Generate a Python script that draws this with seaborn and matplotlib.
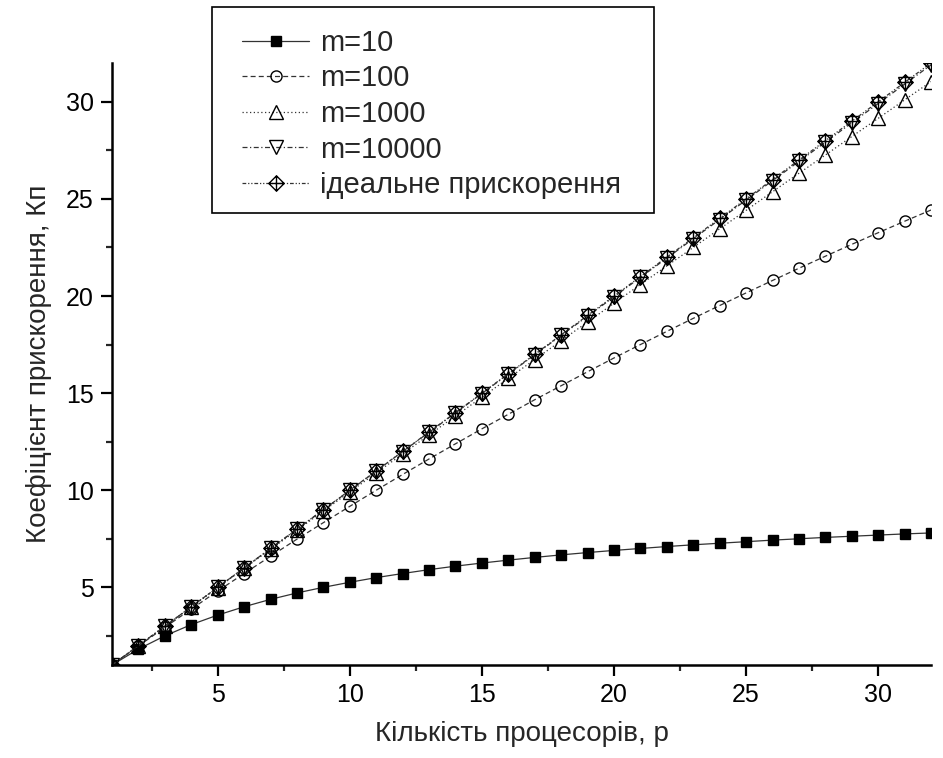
import numpy as np
import pandas as pd
import seaborn as sns
import matplotlib
matplotlib.use("Agg")
import matplotlib.pyplot as plt
from matplotlib.path import Path
from matplotlib.patches import Rectangle
from matplotlib.ticker import MultipleLocator

# Number of processors
p = list(range(1, 33))

# Speedup values
m10 = [1.00, 1.82, 2.50, 3.08, 3.57, 4.00, 4.38, 4.71, 5.00, 5.26, 5.50, 5.71,
       5.91, 6.09, 6.25, 6.40, 6.54, 6.67, 6.79, 6.90, 7.00, 7.10, 7.19, 7.27,
       7.35, 7.43, 7.50, 7.57, 7.63, 7.69, 7.75, 7.80]
m100 = [1.00, 1.98, 2.94, 3.88, 4.81, 5.71, 6.60, 7.48, 8.33, 9.17, 10.00, 10.81,
        11.61, 12.39, 13.16, 13.91, 14.66, 15.38, 16.10, 16.81, 17.50, 18.18,
        18.85, 19.51, 20.16, 20.80, 21.43, 22.05, 22.66, 23.26, 23.85, 24.43]
m1000 = [1.00, 2.00, 2.99, 3.99, 4.98, 5.97, 6.96, 7.94, 8.93, 9.91, 10.89, 11.87,
         12.85, 13.82, 14.79, 15.76, 16.73, 17.70, 18.66, 19.63, 20.59, 21.55,
         22.50, 23.46, 24.41, 25.37, 26.32, 27.26, 28.21, 29.15, 30.10, 31.04]
m10000 = [1.00, 2.00, 3.00, 4.00, 5.00, 6.00, 7.00, 7.99, 8.99, 9.99, 10.99, 11.99,
          12.98, 13.98, 14.98, 15.98, 16.97, 17.97, 18.96, 19.96, 20.96, 21.95,
          22.95, 23.94, 24.94, 25.94, 26.93, 27.92, 28.92, 29.91, 30.91, 31.90]
ideal = [float(v) for v in p]

labels = ["m=10", "m=100", "m=1000", "m=10000", "ідеальне прискорення"]
series = [m10, m100, m1000, m10000, ideal]

# diamond with a cross inside
diamond_cross = Path(
    [(0, 1), (1, 0), (0, -1), (-1, 0), (0, 1), (0, 1), (0, -1), (-1, 0), (1, 0)],
    [Path.MOVETO, Path.LINETO, Path.LINETO, Path.LINETO, Path.CLOSEPOLY,
     Path.MOVETO, Path.LINETO, Path.MOVETO, Path.LINETO],
)

styles = [
    dict(marker="s", markersize=7.5, markerfacecolor="black", linestyle="-"),
    dict(marker="o", markersize=8, markerfacecolor="none", linestyle=(0, (4, 2.5))),
    dict(marker="^", markersize=10, markerfacecolor="none", linestyle=(0, (1, 2))),
    dict(marker="v", markersize=10, markerfacecolor="none", linestyle=(0, (4, 2, 1, 2))),
    dict(marker=diamond_cross, markersize=11, markerfacecolor="none",
         linestyle=(0, (3, 1.5, 1, 1.5, 1, 1.5))),
]

sns.set_style("ticks")
plt.rcParams["font.family"] = ["Liberation Sans", "DejaVu Sans"]

fig = plt.figure(figsize=(9.43, 7.58), dpi=100)
ax = fig.add_axes([0.1188, 0.1227, 0.8685, 0.7942])

for lab, vals, st in zip(labels, series, styles):
    df = pd.DataFrame({"p": p, "k": vals})
    sns.lineplot(data=df, x="p", y="k", ax=ax, label=lab, color="#333333",
                 linewidth=0.9, markeredgecolor="black", markeredgewidth=1.0, **st)

ax.set_xlim(1, 32)
ax.set_ylim(1, 32)
ax.xaxis.set_major_locator(MultipleLocator(5))
ax.xaxis.set_minor_locator(MultipleLocator(2.5))
ax.yaxis.set_major_locator(MultipleLocator(5))
ax.yaxis.set_minor_locator(MultipleLocator(2.5))
ax.tick_params(axis="both", which="major", direction="out", length=8, width=1.6,
               labelsize=18, pad=5, colors="black")
ax.tick_params(axis="both", which="minor", direction="out", length=4, width=1.6)

for side in ["top", "right"]:
    ax.spines[side].set_visible(False)
for side in ["left", "bottom"]:
    ax.spines[side].set_linewidth(1.8)
    ax.spines[side].set_color("black")

ax.set_xlabel("Кількість процесорів, р", fontsize=20, labelpad=10)
ax.set_ylabel("Коефіцієнт прискорення, Кп", fontsize=20, labelpad=10)

# legend box sits partly above the plot area
fig.patches.append(Rectangle((0.2248, 0.719), 0.4687, 0.2718, transform=fig.transFigure,
                             facecolor="white", edgecolor="black", linewidth=1.2,
                             zorder=1))

handles, labs = ax.get_legend_handles_labels()
ax.get_legend().remove()
leg = fig.legend(handles, labs, loc="upper left", bbox_to_anchor=(0.257, 0.962),
                 fontsize=21, frameon=False,
                 handlelength=2.3, handletextpad=0.35, labelspacing=0.26,
                 borderpad=0, borderaxespad=0)

fig.savefig("out.png", dpi=100)
